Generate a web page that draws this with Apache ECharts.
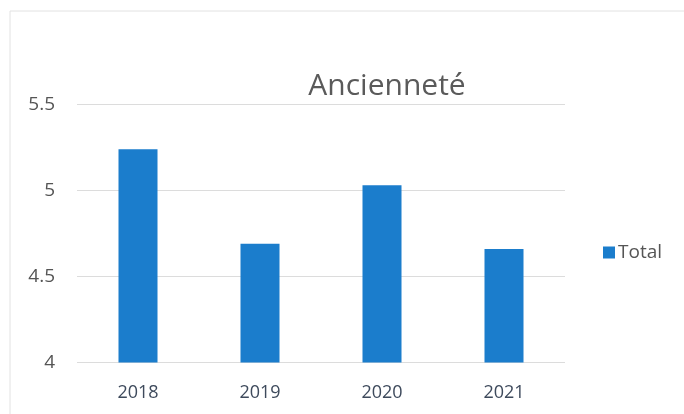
<!DOCTYPE html>
<html><head><meta charset="utf-8">
<script src="https://cdn.jsdelivr.net/npm/echarts@6/dist/echarts.min.js"></script>
<style>html,body{margin:0;padding:0;background:#fff}#c{width:684px;height:414px}</style>
</head><body><div id="c"></div>
<script>
const categories = ['2018', '2019', '2020', '2021'];
const totalValues = [5.24, 4.69, 5.03, 4.66];
const seriesName = 'Total';
const titleText = 'Ancienneté';

const chart = echarts.init(document.getElementById('c'), null, {renderer: 'canvas'});
const font = '"Open Sans", "Noto Sans", sans-serif';
chart.setOption({
  backgroundColor: '#ffffff',
  animation: false,
  graphic: [
    {type: 'line', shape: {x1: 10, y1: 11, x2: 684, y2: 11}, style: {stroke: '#e2e2e2', lineWidth: 1}},
    {type: 'line', shape: {x1: 10, y1: 11, x2: 10, y2: 414}, style: {stroke: '#e2e2e2', lineWidth: 1}}
  ],
  title: {
    text: titleText, left: 382, top: 66, textAlign: 'center',
    textStyle: {fontFamily: font, fontSize: 30, fontWeight: 'normal', color: '#5a5a5a'}
  },
  legend: {
    data: [seriesName], left: 598, top: 238, orient: 'vertical',
    itemWidth: 12, itemHeight: 12, itemGap: 4, icon: 'rect',
    textStyle: {fontFamily: font, fontSize: 19, color: '#555', padding: [0, 0, 0, -2]}
  },
  grid: {left: 77, right: 119, top: 104.5, bottom: 51.5, containLabel: false},
  xAxis: {
    type: 'category', data: categories,
    axisLine: {show: false}, axisTick: {show: false},
    axisLabel: {fontFamily: font, fontSize: 18, color: '#3e4a5c', margin: 21}
  },
  yAxis: {
    type: 'value', min: 4, max: 5.5, interval: 0.5,
    axisLine: {show: false}, axisTick: {show: false},
    axisLabel: {fontFamily: font, fontSize: 19, color: '#555', margin: 22,
      formatter: v => String(v)},
    splitLine: {lineStyle: {color: '#dcdcdc', width: 1}}
  },
  series: [{
    name: seriesName, type: 'bar', data: totalValues, barWidth: 39,
    itemStyle: {color: '#1b7dcc'}
  }]
});
</script></body></html>
